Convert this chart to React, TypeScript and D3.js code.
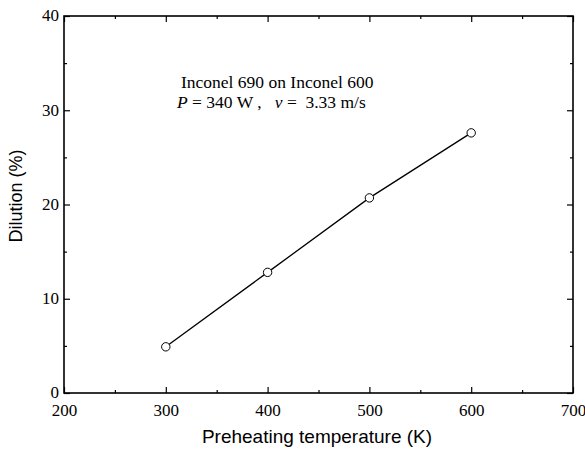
import React, { useEffect, useRef } from 'react';
import * as d3 from 'd3';

const temps = [300, 400, 500, 600];
const dilution = [4.9, 12.8, 20.7, 27.6];
const xTicks = [200, 300, 400, 500, 600, 700];
const yTicks = [0, 10, 20, 30, 40];
const noteLine1 = 'Inconel 690 on Inconel 600';

const App = () => {
  const svgRef = useRef<SVGSVGElement>(null);
  const width = 585;
  const height = 454;
  const margin = { top: 16, right: 12, bottom: 61, left: 64 };

  useEffect(() => {
    const svg = d3.select(svgRef.current);
    svg.selectAll('*').remove();

    const innerWidth = width - margin.left - margin.right;
    const innerHeight = height - margin.top - margin.bottom;

    const g = svg.append('g')
      .attr('transform', `translate(${margin.left},${margin.top})`);

    const x = d3.scaleLinear().domain([200, 700]).range([0, innerWidth]);
    const y = d3.scaleLinear().domain([0, 40]).range([innerHeight, 0]);

    const serif = '"Liberation Serif", "Times New Roman", serif';
    const sans = '"Liberation Sans", Arial, sans-serif';

    // ejes con ticks hacia dentro
    const styleAxis = (sel: any) => {
      sel.select('.domain').remove();
      sel.selectAll('.tick line').attr('stroke', '#000').attr('stroke-width', 1.2);
      sel.selectAll('.tick text')
        .attr('font-family', serif)
        .attr('font-size', 17)
        .attr('fill', '#000');
    };

    const xMinor = d3.range(250, 700, 100);
    const yMinor = d3.range(5, 40, 10);

    // abajo
    g.append('g')
      .attr('transform', `translate(0,${innerHeight})`)
      .call(d3.axisBottom(x).tickValues(xTicks).tickSize(-6).tickPadding(11).tickFormat(d3.format('d')))
      .call(styleAxis);
    g.append('g')
      .attr('transform', `translate(0,${innerHeight})`)
      .call(d3.axisBottom(x).tickValues(xMinor).tickSize(-3).tickFormat(() => ''))
      .call(styleAxis);
    // arriba
    g.append('g')
      .call(d3.axisTop(x).tickValues(xTicks).tickSize(-6).tickFormat(() => ''))
      .call(styleAxis);
    g.append('g')
      .call(d3.axisTop(x).tickValues(xMinor).tickSize(-3).tickFormat(() => ''))
      .call(styleAxis);
    // izquierda
    g.append('g')
      .call(d3.axisLeft(y).tickValues(yTicks).tickSize(-6).tickPadding(5).tickFormat(d3.format('d')))
      .call(styleAxis)
      .call(s => s.selectAll('.tick text').attr('dy', '0.28em'));
    g.append('g')
      .call(d3.axisLeft(y).tickValues(yMinor).tickSize(-3).tickFormat(() => ''))
      .call(styleAxis);
    // derecha
    g.append('g')
      .attr('transform', `translate(${innerWidth},0)`)
      .call(d3.axisRight(y).tickValues(yTicks).tickSize(-6).tickFormat(() => ''))
      .call(styleAxis);
    g.append('g')
      .attr('transform', `translate(${innerWidth},0)`)
      .call(d3.axisRight(y).tickValues(yMinor).tickSize(-3).tickFormat(() => ''))
      .call(styleAxis);

    // marco
    g.append('rect')
      .attr('width', innerWidth)
      .attr('height', innerHeight)
      .attr('fill', 'none')
      .attr('stroke', '#000')
      .attr('stroke-width', 1.6);

    // línea
    const line = d3.line<number>()
      .x((d, i) => x(temps[i]))
      .y(d => y(d));

    g.append('path')
      .datum(dilution)
      .attr('fill', 'none')
      .attr('stroke', '#000')
      .attr('stroke-width', 1.3)
      .attr('d', line);

    g.selectAll('.pt')
      .data(dilution)
      .enter()
      .append('circle')
      .attr('class', 'pt')
      .attr('cx', (d, i) => x(temps[i]))
      .attr('cy', d => y(d))
      .attr('r', 4.2)
      .attr('fill', '#fff')
      .attr('stroke', '#000')
      .attr('stroke-width', 1);

    // anotación
    svg.append('text')
      .attr('x', 181)
      .attr('y', 88)
      .attr('font-family', serif)
      .attr('font-size', 17.5)
      .text(noteLine1);

    const t2 = svg.append('text')
      .attr('x', 177)
      .attr('y', 107.5)
      .attr('font-family', serif)
      .attr('font-size', 17.5)
      .attr('xml:space', 'preserve')
      .style('white-space', 'pre');
    t2.append('tspan').attr('font-style', 'italic').text('P');
    t2.append('tspan').text(' = 340 W ,   ');
    t2.append('tspan').attr('font-style', 'italic').text('v');
    t2.append('tspan').text(' =  3.33 m/s');

    // títulos de ejes
    svg.append('text')
      .attr('x', 317)
      .attr('y', 443)
      .attr('text-anchor', 'middle')
      .attr('font-family', sans)
      .attr('font-size', 19)
      .text('Preheating temperature (K)');

    svg.append('text')
      .attr('transform', `translate(22,196) rotate(-90)`)
      .attr('text-anchor', 'middle')
      .attr('font-family', sans)
      .attr('font-size', 18)
      .text('Dilution (%)');
  }, []);

  return (
    <svg ref={svgRef} width={width} height={height}
      style={{ position: 'absolute', left: 0, top: 0, background: '#fff' }} />
  );
};

export default App;
